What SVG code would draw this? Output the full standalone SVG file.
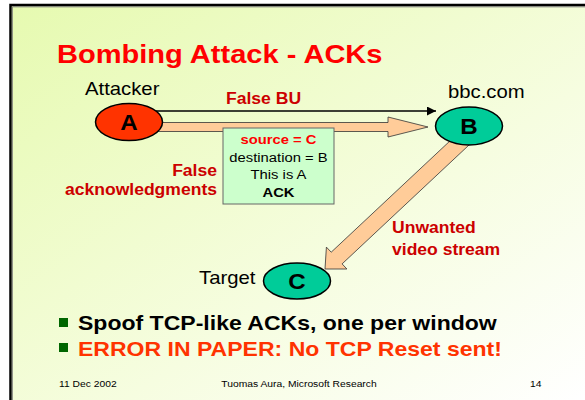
<svg xmlns="http://www.w3.org/2000/svg" width="585" height="400" viewBox="0 0 585 400">
<defs>
<linearGradient id="bg" x1="0" y1="0" x2="1" y2="1">
<stop offset="0" stop-color="#e6fab0"/>
<stop offset="0.6" stop-color="#f6fde0"/>
<stop offset="1" stop-color="#ffffff"/>
</linearGradient>
<marker id="ah" viewBox="0 0 10 10" refX="10" refY="5" markerWidth="9" markerHeight="9" markerUnits="userSpaceOnUse" orient="auto">
<path d="M0,0 L10,5 L0,10 z" fill="#000"/>
</marker>
<style>
text{font-family:"Liberation Sans",Arial,sans-serif}
.b{font-weight:bold}
.lbl{font-weight:bold;fill:#cc0000;font-size:16px}
.node{stroke:#000;stroke-width:1.5}
.blk{fill:#ffcc99;stroke:#333;stroke-width:0.8}
.mid{text-anchor:middle}
.end{text-anchor:end}
</style>
</defs>
<rect x="0" y="0" width="585" height="400" fill="#fff"/>
<rect x="11" y="5" width="574" height="395" fill="url(#bg)"/>
<path d="M10.5,400 V5 H585" fill="none" stroke="#000" stroke-width="2.5"/>
<path d="M12.3,400 V6.8 H585" fill="none" stroke="#777" stroke-width="1"/>

<text class="b" transform="matrix(1.097 0 0 1 57 63)" font-size="26.5" fill="#ff0000">Bombing Attack - ACKs</text>

<g id="connectors">
<line x1="150" y1="111" x2="436" y2="111" stroke="#000" stroke-width="1.5" marker-end="url(#ah)"/>
<polygon class="blk" points="150,122.5 388,122.5 388,117 428,127 388,137 388,131.5 150,131.5"/>
<polygon class="blk" points="462.5,129.2 331.2,252.2 326.4,247.1 325,269 346.9,269 342.1,263.9 473.5,140.8"/>
</g>

<g id="node-A">
<ellipse class="node" cx="129" cy="122" rx="33.5" ry="18.5" fill="#ff3300"/>
<text class="b mid" transform="matrix(1.097 0 0 1 129 130)" font-size="22">A</text>
<text transform="matrix(1.097 0 0 1 85 95)" font-size="18.5">Attacker</text>
</g>
<g id="node-B">
<ellipse class="node" cx="469" cy="126" rx="33.5" ry="19" fill="#00cc99"/>
<text class="b mid" transform="matrix(1.097 0 0 1 469 134)" font-size="22">B</text>
<text transform="matrix(1.097 0 0 1 448 98)" font-size="18.5">bbc.com</text>
</g>
<g id="node-C">
<ellipse class="node" cx="297" cy="281" rx="33.5" ry="18" fill="#00cc99"/>
<text class="b mid" transform="matrix(1.097 0 0 1 297 289)" font-size="22">C</text>
<text transform="matrix(1.097 0 0 1 199 284)" font-size="18.5">Target</text>
</g>

<g id="packet">
<rect x="223" y="128" width="111" height="76" fill="#ccffcc" stroke="#666" stroke-width="1"/>
<text class="b mid" transform="matrix(1.097 0 0 1 278.5 144)" font-size="13.5" fill="#ff0000">source = C</text>
<text class="mid" transform="matrix(1.097 0 0 1 278.5 161.5)" font-size="13.5">destination = B</text>
<text class="mid" transform="matrix(1.097 0 0 1 278.5 179)" font-size="13.5">This is A</text>
<text class="b mid" transform="matrix(1.097 0 0 1 278.5 196.5)" font-size="13.5">ACK</text>
</g>

<g id="labels">
<text class="lbl" transform="matrix(1.097 0 0 1 226 104)" font-size="15.5">False BU</text>
<text class="lbl end" transform="matrix(1.097 0 0 1 217 175.5)">False</text>
<text class="lbl end" transform="matrix(1.097 0 0 1 217 195)">acknowledgments</text>
<text class="lbl" transform="matrix(1.097 0 0 1 392 233)">Unwanted</text>
<text class="lbl" transform="matrix(1.097 0 0 1 392 255)">video stream</text>
</g>

<g id="bullets">
<rect x="59" y="318" width="9" height="9" fill="#006600"/>
<text class="b" transform="matrix(1.097 0 0 1 78 330)" font-size="21">Spoof TCP-like ACKs, one per window</text>
<rect x="59" y="343" width="9" height="9" fill="#006600"/>
<text class="b" transform="matrix(1.097 0 0 1 78 356)" font-size="21" fill="#ff3300">ERROR IN PAPER: No TCP Reset sent!</text>
</g>

<g id="footer" font-size="9.4">
<text transform="matrix(1.097 0 0 1 59 387)">11 Dec 2002</text>
<text class="mid" transform="matrix(1.097 0 0 1 299 387)">Tuomas Aura, Microsoft Research</text>
<text transform="matrix(1.097 0 0 1 530 387)">14</text>
</g>
</svg>
